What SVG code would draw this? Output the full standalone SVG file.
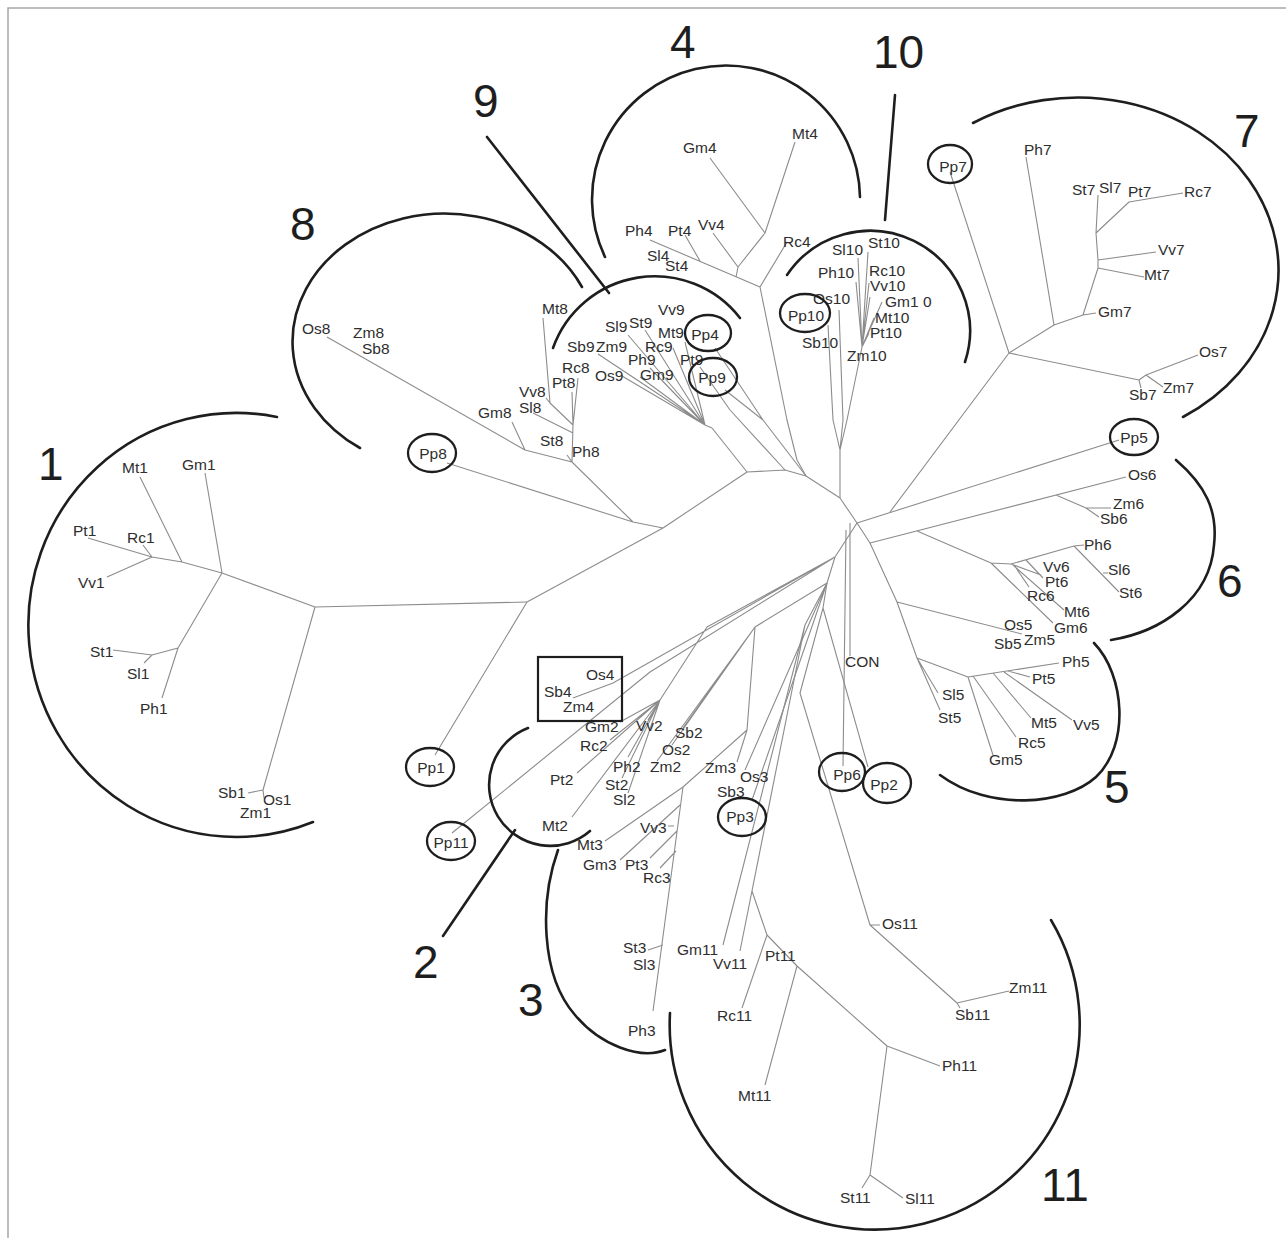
<svg xmlns="http://www.w3.org/2000/svg" width="1286" height="1238" viewBox="0 0 1286 1238">
<style>
.br{fill:none;stroke:#8c8c8c;stroke-width:1.1;stroke-linejoin:round}
.arc{fill:none;stroke:#1e1e1e;stroke-width:2.6;stroke-linecap:round}
.pp{fill:none;stroke:#1e1e1e;stroke-width:2.3}
.lb{font-family:"Liberation Sans",Arial,sans-serif;font-size:15.5px;fill:#2e2e2e}
.pt{font-family:"Liberation Sans",Arial,sans-serif;font-size:15.5px;fill:#2e2e2e;text-anchor:middle}
.num{font-family:"Liberation Sans",Arial,sans-serif;font-size:46px;fill:#1e1e1e}
</style>
<rect x="8" y="8" width="1300" height="1260" fill="#fff" stroke="#a8a8a8" stroke-width="1.5"/>

<g id="connectors">
<path class="br" d="M315,607 L527,602 M315,607 L222,573 M222,573 L182,562 L152,557 L88,538 M152,557 L143,545 M152,557 L107,577 M182,562 L140,477 M222,573 L205,473 M222,573 L178,648 L152,655 L113,650 M152,655 L144,663 M178,648 L162,698 M315,607 L263,790 M263,790 L248,793 M263,790 L264,798"/>
<path class="br" d="M527,602 L435,755 M527,602 L663,528 L747,472 L785,470 L806,476 L840,498 L857,523 M447,463 L633,522 L663,528 M572,462 L633,522"/>
<path class="br" d="M327,337 L525,450 L572,462 M512,422 L525,450 M572,462 L573,425 L578,378 M573,425 L572,392 M573,425 L550,403 L543,318 M550,403 L546,398 M533,413 L573,433 M567,455 L572,462"/>
<path class="br" d="M712,428 L747,472 M705,425 L712,428 M628,335 L705,425 M645,330 L705,425 M598,354 L705,425 M673,348 L705,425 M650,368 L705,425 M640,377 L705,425 M622,376 L705,425 M685,342 L705,425 M700,367 L730,410 L785,470 M715,348 L763,420 M725,390 L763,420 L806,476"/>
<path class="br" d="M760,287 L787,420 L797,460 L806,476 M760,287 L650,240 M700,261 L685,235 M736,277 L738,267 L713,233 M738,267 L765,233 L710,158 M765,233 L795,142 M760,287 L787,242"/>
<path class="br" d="M840,450 L840,498 M847,420 L840,450 M833,420 L840,450 M843,420 L840,450 M828,325 L833,420 M839,310 L843,420 M862,347 L847,420 M858,258 L862,347 M868,252 L862,347 M856,282 L862,347 M869,283 L862,347 M870,297 L862,347 M882,302 L862,347 M874,318 L862,347 M869,333 L862,347"/>
<path class="br" d="M1009,353 L890,512 M1009,353 L950,172 M1009,353 L1054,325 L1083,315 L1096,313 M1054,325 L1026,157 M1083,315 L1098,268 L1144,277 M1098,268 L1098,260 L1156,252 M1098,260 L1096,233 L1098,195 M1096,233 L1129,202 L1183,193 M1009,353 L1139,380 L1146,375 L1198,355 M1146,375 L1163,387 M1139,380 L1141,388"/>
<path class="br" d="M857,523 L1119,440"/>
<path class="br" d="M857,523 L870,543 L1126,477 M1056,495 L1086,508 L1111,508 M1086,508 L1099,517 M917,531 L991,563 L1011,564 L1074,546 L1084,545 M1074,546 L1119,592 M1103,573 L1108,573 M1011,564 L1041,575 M1026,560 L1043,578 M1014,565 L1029,587 M1013,565 L1064,610 M991,563 L1053,623"/>
<path class="br" d="M870,543 L897,602 L917,658 L938,693 M917,658 L940,710 M897,602 L1022,634 M917,658 L968,677 L1059,663 M968,677 L993,755 M973,676 L1016,737 M993,673 L1031,718 M1004,672 L1072,720 M1008,671 L1030,677"/>
<path class="br" d="M850,523 L850,656 M846,530 L843,766"/>
<path class="br" d="M857,523 L835,557 M835,557 L613,683 L573,698 M835,557 L650,672 L452,833 M835,557 L707,627 L660,700 M660,700 L620,722 M660,700 L648,720 M660,700 L610,740 M660,700 L628,757 M660,700 L577,773 M660,700 L622,778 M660,700 L628,793 M660,700 L572,817"/>
<path class="br" d="M835,557 L827,583 M827,583 L755,627 L747,730 L683,787 L653,1011 M755,627 L683,728 M755,627 L672,745 M755,627 L657,761 M683,787 L605,841 M680,805 L620,860 M677,831 L650,858 M676,851 L660,868 M674,826 L668,826 M663,945 L648,950 M747,730 L737,762 M827,583 L745,770 M827,583 L752,800"/>
<path class="br" d="M827,583 L823,608 L868,767 M823,608 L800,693 L870,925 L957,1003 L1009,991 M870,925 L880,925 M957,1003 L960,1008 M827,583 L805,625 M805,625 L723,945 M805,625 L740,951 M805,625 L752,891 L767,935 L797,966 L887,1046 L940,1066 M767,935 L742,1008 M797,966 L765,1085 M887,1046 L870,1175 L862,1188 M870,1175 L903,1198"/>
</g>

<g id="cluster1">
<path class="arc" d="M277,417 A208 212 0 1 0 313,822"/>
<text class="num" x="38" y="480">1</text>
<text class="lb" x="122" y="473">Mt1</text><text class="lb" x="182" y="470">Gm1</text>
<text class="lb" x="73" y="536">Pt1</text><text class="lb" x="127" y="543">Rc1</text>
<text class="lb" x="78" y="588">Vv1</text><text class="lb" x="90" y="657">St1</text>
<text class="lb" x="127" y="679">Sl1</text><text class="lb" x="140" y="714">Ph1</text>
<text class="lb" x="218" y="798">Sb1</text><text class="lb" x="263" y="805">Os1</text>
<text class="lb" x="240" y="818">Zm1</text>
</g>
<g id="Pp1"><ellipse class="pp" cx="430" cy="767" rx="24" ry="19"/><text class="pt" x="431" y="773">Pp1</text></g>

<g id="cluster8">
<path class="arc" d="M582,287 A152 128 0 1 0 360,448"/>
<text class="num" x="290" y="240">8</text>
<text class="lb" x="302" y="334">Os8</text><text class="lb" x="353" y="338">Zm8</text>
<text class="lb" x="362" y="354">Sb8</text><text class="lb" x="542" y="314">Mt8</text>
<text class="lb" x="562" y="373">Rc8</text><text class="lb" x="552" y="388">Pt8</text>
<text class="lb" x="519" y="397">Vv8</text><text class="lb" x="519" y="413">Sl8</text>
<text class="lb" x="478" y="418">Gm8</text><text class="lb" x="540" y="446">St8</text>
<text class="lb" x="572" y="457">Ph8</text>
</g>
<g id="Pp8"><ellipse class="pp" cx="432" cy="453" rx="24" ry="19"/><text class="pt" x="433" y="459">Pp8</text></g>

<g id="cluster9">
<path class="arc" d="M553,348 A108 108 0 0 1 740,318"/>
<line class="arc" x1="487" y1="137" x2="609" y2="293"/>
<text class="num" x="473" y="117">9</text>
<text class="lb" x="605" y="332">Sl9</text><text class="lb" x="629" y="328">St9</text>
<text class="lb" x="658" y="315">Vv9</text><text class="lb" x="658" y="338">Mt9</text>
<text class="lb" x="567" y="352">Sb9</text><text class="lb" x="596" y="352">Zm9</text>
<text class="lb" x="645" y="352">Rc9</text><text class="lb" x="628" y="365">Ph9</text>
<text class="lb" x="680" y="365">Pt9</text><text class="lb" x="595" y="381">Os9</text>
<text class="lb" x="640" y="380">Gm9</text>
</g>
<g id="Pp4"><ellipse class="pp" cx="708" cy="333" rx="23" ry="18"/><text class="pt" x="705" y="340">Pp4</text></g>
<g id="Pp9"><ellipse class="pp" cx="713" cy="377" rx="24" ry="19"/><text class="pt" x="712" y="383">Pp9</text></g>

<g id="cluster4">
<path class="arc" d="M605,257 A134 134 0 1 1 860,197"/>
<text class="num" x="670" y="58">4</text>
<text class="lb" x="683" y="153">Gm4</text><text class="lb" x="792" y="139">Mt4</text>
<text class="lb" x="625" y="236">Ph4</text><text class="lb" x="668" y="236">Pt4</text>
<text class="lb" x="698" y="230">Vv4</text><text class="lb" x="647" y="261">Sl4</text>
<text class="lb" x="665" y="271">St4</text><text class="lb" x="783" y="247">Rc4</text>
</g>

<g id="cluster10">
<path class="arc" d="M787,275 A100 100 0 0 1 965,362"/>
<line class="arc" x1="895" y1="95" x2="885" y2="220"/>
<text class="num" x="873" y="68">10</text>
<text class="lb" x="832" y="255">Sl10</text><text class="lb" x="868" y="248">St10</text>
<text class="lb" x="818" y="278">Ph10</text><text class="lb" x="869" y="276">Rc10</text>
<text class="lb" x="870" y="291">Vv10</text><text class="lb" x="885" y="307">Gm1 0</text>
<text class="lb" x="813" y="304">Os10</text><text class="lb" x="875" y="323">Mt10</text>
<text class="lb" x="870" y="338">Pt10</text><text class="lb" x="802" y="348">Sb10</text>
<text class="lb" x="847" y="361">Zm10</text>
</g>
<g id="Pp10"><ellipse class="pp" cx="805" cy="313" rx="25" ry="19"/><text class="pt" x="806" y="321">Pp10</text></g>

<g id="cluster7">
<path class="arc" d="M973,123 A200 172 0 0 1 1183,417"/>
<text class="num" x="1234" y="147">7</text>
<text class="lb" x="1024" y="155">Ph7</text><text class="lb" x="1072" y="195">St7</text>
<text class="lb" x="1099" y="193">Sl7</text><text class="lb" x="1128" y="197">Pt7</text>
<text class="lb" x="1184" y="197">Rc7</text><text class="lb" x="1158" y="255">Vv7</text>
<text class="lb" x="1144" y="280">Mt7</text><text class="lb" x="1098" y="317">Gm7</text>
<text class="lb" x="1199" y="357">Os7</text><text class="lb" x="1163" y="393">Zm7</text>
<text class="lb" x="1129" y="400">Sb7</text>
</g>
<g id="Pp7"><ellipse class="pp" cx="950" cy="164" rx="22" ry="19"/><text class="pt" x="953" y="172">Pp7</text></g>
<g id="Pp5"><ellipse class="pp" cx="1134" cy="437" rx="24" ry="18"/><text class="pt" x="1134" y="443">Pp5</text></g>

<g id="cluster6">
<path class="arc" d="M1176,460 C1205,485 1218,510 1214,545 C1210,600 1160,632 1111,640"/>
<text class="num" x="1217" y="597">6</text>
<text class="lb" x="1128" y="480">Os6</text><text class="lb" x="1113" y="509">Zm6</text>
<text class="lb" x="1100" y="524">Sb6</text><text class="lb" x="1084" y="550">Ph6</text>
<text class="lb" x="1043" y="572">Vv6</text><text class="lb" x="1108" y="575">Sl6</text>
<text class="lb" x="1045" y="587">Pt6</text><text class="lb" x="1119" y="598">St6</text>
<text class="lb" x="1027" y="601">Rc6</text><text class="lb" x="1064" y="617">Mt6</text>
<text class="lb" x="1054" y="633">Gm6</text>
</g>

<g id="cluster5">
<path class="arc" d="M1094,643 C1125,675 1130,745 1096,777 C1065,805 990,812 940,775"/>
<text class="num" x="1104" y="803">5</text>
<text class="lb" x="1004" y="630">Os5</text><text class="lb" x="994" y="649">Sb5</text>
<text class="lb" x="1024" y="645">Zm5</text><text class="lb" x="1062" y="667">Ph5</text>
<text class="lb" x="1032" y="684">Pt5</text><text class="lb" x="942" y="700">Sl5</text>
<text class="lb" x="938" y="723">St5</text><text class="lb" x="1031" y="728">Mt5</text>
<text class="lb" x="1073" y="730">Vv5</text><text class="lb" x="1018" y="748">Rc5</text>
<text class="lb" x="989" y="765">Gm5</text>
</g>

<g id="CON"><text class="lb" x="845" y="667">CON</text></g>
<g id="Pp6"><ellipse class="pp" cx="842" cy="772" rx="23" ry="19"/><text class="pt" x="847" y="780">Pp6</text></g>
<g id="Pp2"><ellipse class="pp" cx="887" cy="783" rx="24" ry="20"/><text class="pt" x="884" y="790">Pp2</text></g>

<g id="box4">
<rect x="538" y="657" width="84" height="64" fill="none" stroke="#1e1e1e" stroke-width="2.2"/>
<text class="lb" x="586" y="680">Os4</text><text class="lb" x="544" y="697">Sb4</text>
<text class="lb" x="563" y="712">Zm4</text>
</g>

<g id="cluster2">
<path class="arc" d="M528,728 A61 61 0 1 0 590,831"/>
<line class="arc" x1="515" y1="830" x2="443" y2="936"/>
<text class="num" x="413" y="978">2</text>
<text class="lb" x="585" y="732">Gm2</text><text class="lb" x="636" y="731">Vv2</text>
<text class="lb" x="675" y="738">Sb2</text><text class="lb" x="580" y="751">Rc2</text>
<text class="lb" x="662" y="755">Os2</text><text class="lb" x="613" y="772">Ph2</text>
<text class="lb" x="650" y="772">Zm2</text><text class="lb" x="550" y="785">Pt2</text>
<text class="lb" x="605" y="790">St2</text><text class="lb" x="613" y="805">Sl2</text>
<text class="lb" x="542" y="831">Mt2</text>
</g>
<g id="Pp11"><ellipse class="pp" cx="451" cy="841" rx="24" ry="19"/><text class="pt" x="451" y="848">Pp11</text></g>

<g id="cluster3">
<path class="arc" d="M558,850 C540,900 540,975 575,1015 C600,1045 640,1060 665,1050"/>
<text class="num" x="518" y="1016">3</text>
<text class="lb" x="705" y="773">Zm3</text><text class="lb" x="740" y="782">Os3</text>
<text class="lb" x="717" y="797">Sb3</text><text class="lb" x="640" y="833">Vv3</text>
<text class="lb" x="577" y="850">Mt3</text><text class="lb" x="583" y="870">Gm3</text>
<text class="lb" x="625" y="870">Pt3</text><text class="lb" x="643" y="883">Rc3</text>
<text class="lb" x="623" y="953">St3</text><text class="lb" x="633" y="970">Sl3</text>
<text class="lb" x="628" y="1036">Ph3</text>
</g>
<g id="Pp3"><ellipse class="pp" cx="742" cy="817" rx="24" ry="19"/><text class="pt" x="740" y="822">Pp3</text></g>

<g id="cluster11">
<path class="arc" d="M670,1013 A205 205 0 1 0 1051,920"/>
<text class="num" x="1041" y="1201">11</text>
<text class="lb" x="882" y="929">Os11</text><text class="lb" x="677" y="955">Gm11</text>
<text class="lb" x="713" y="969">Vv11</text><text class="lb" x="765" y="961">Pt11</text>
<text class="lb" x="717" y="1021">Rc11</text><text class="lb" x="1009" y="993">Zm11</text>
<text class="lb" x="955" y="1020">Sb11</text><text class="lb" x="942" y="1071">Ph11</text>
<text class="lb" x="738" y="1101">Mt11</text><text class="lb" x="840" y="1203">St11</text>
<text class="lb" x="905" y="1204">Sl11</text>
</g>
</svg>
